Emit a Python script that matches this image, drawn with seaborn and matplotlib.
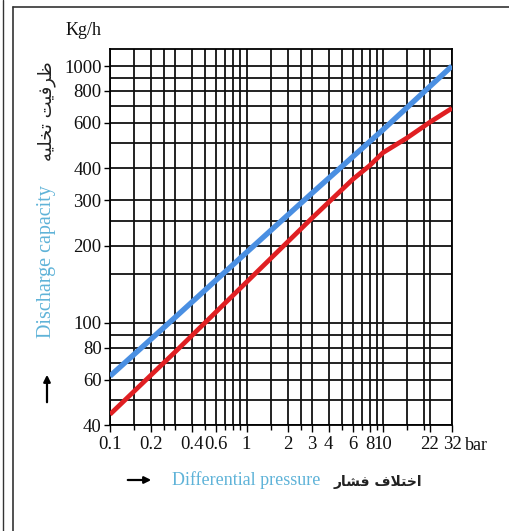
import numpy as np
import pandas as pd
import matplotlib
matplotlib.use("Agg")
import matplotlib.pyplot as plt
from matplotlib.lines import Line2D
import seaborn as sns

# Curve data (differential pressure in bar, capacity in kg/h)
pressure_blue = [0.1, 0.3, 1, 3, 10, 32]
capacity_blue = [62, 105, 188, 319, 565, 1000]
pressure_red = [0.1, 0.3, 1, 3, 6, 8, 10, 15, 22, 32]
capacity_red = [44, 77, 144, 255, 362, 410, 460, 525, 604, 685]

# Axis ticks and grid positions
x_labeled = [0.1, 0.2, 0.4, 0.6, 1, 2, 3, 4, 6, 8, 10, 22, 32]
x_labels = ["0.1", "0.2", "0.4", "0.6", "1", "2", "3", "4", "6", "8", "10", "22", "32"]
x_minor = [0.15, 0.25, 0.3, 0.5, 0.7, 0.8, 0.9, 1.5, 2.5, 5, 7, 9, 15, 20]
y_labeled = [40, 60, 80, 100, 200, 300, 400, 600, 800, 1000]
y_labels = ["40", "60", "80", "100", "200", "300", "400", "600", "800", "1000"]
y_minor = [50, 70, 90, 155, 250, 500, 700, 900]

BLUE = "#4a8fe2"
RED = "#e01f22"
LIGHT_BLUE = "#5fb3d8"

sns.set_style("white")
plt.rcParams["font.family"] = ["Liberation Serif", "DejaVu Sans"]

df = pd.concat([
    pd.DataFrame({"p": pressure_blue, "q": capacity_blue, "s": "blue"}),
    pd.DataFrame({"p": pressure_red, "q": capacity_red, "s": "red"}),
])

fig = plt.figure(figsize=(5.1, 5.31), dpi=100)
ax = fig.add_axes([110 / 510, 1 - 425 / 531, 342 / 510, 376 / 531])
ax.set_xscale("log")
ax.set_yscale("log")

sns.lineplot(data=df[df.s == "blue"], x="p", y="q", color=BLUE, lw=3.9,
             ax=ax, zorder=5, solid_capstyle="butt")
sns.lineplot(data=df[df.s == "red"], x="p", y="q", color=RED, lw=3.4,
             ax=ax, zorder=4, solid_capstyle="butt")

ax.set_xlim(0.1, 32)
ax.set_ylim(40, 1165)

ax.set_xticks(x_labeled)
ax.set_xticklabels(x_labels)
ax.set_xticks(x_minor, minor=True)
ax.set_xticklabels([], minor=True)
ax.set_yticks(y_labeled)
ax.set_yticklabels(y_labels)
ax.set_yticks(y_minor, minor=True)
ax.set_yticklabels([], minor=True)

ax.grid(which="both", color="#111111", lw=1.3)
ax.set_axisbelow(True)
ax.tick_params(axis="x", which="major", length=5, width=1, color="black",
               labelsize=13.5, pad=3, direction="out", bottom=True,
               labelcolor="#111111")
ax.tick_params(axis="x", which="minor", length=3.5, width=1, color="black",
               bottom=True)
ax.tick_params(axis="y", which="major", length=4, width=1, color="black",
               labelsize=13.5, pad=2, direction="out", left=True,
               labelcolor="#111111")
ax.tick_params(axis="y", which="minor", length=0)
for sp in ax.spines.values():
    sp.set_color("black")
    sp.set_linewidth(1.3)
ax.set_xlabel("")
ax.set_ylabel("")

# Unit labels
fig.text(84 / 510, 1 - 31 / 531, "Kg/h", fontsize=13, ha="center", va="center",
         color="#111111")
fig.text(465 / 510, 1 - 445 / 531, "bar", fontsize=13, ha="left", va="center",
         color="#111111")

# Axis titles (Persian written in shaped presentation forms, visual order)
fa_capacity = "\ufeea\ufef4\ufee0\ufea8\ufe97 \ufe96\ufef4\ufed3\ufeae\ufec7"
fa_pressure = "\ufead\ufe8e\ufeb8\ufed3 \ufed1\ufefc\ufe98\ufea7\ufe8d"
fig.text(47 / 510, 1 - 111 / 531, fa_capacity, rotation=90, fontsize=13,
         family="DejaVu Sans", ha="center", va="center", color="#222222")
fig.text(47 / 510, 1 - 262 / 531, "Discharge capacity", rotation=90,
         fontsize=14.5, color=LIGHT_BLUE, ha="center", va="center")
fig.text(246 / 510, 1 - 480 / 531, "Differential pressure", fontsize=13,
         color=LIGHT_BLUE, ha="center", va="center")
fig.text(378 / 510, 1 - 482 / 531, fa_pressure, fontsize=10,
         family="DejaVu Sans", weight="bold", ha="center", va="center",
         color="#222222")

# Arrows
fig.patches.append(matplotlib.patches.FancyArrowPatch(
    (125 / 510, 1 - 480 / 531), (154 / 510, 1 - 480 / 531),
    transform=fig.transFigure, arrowstyle="-|>", mutation_scale=10,
    color="black", lw=1.6))
fig.patches.append(matplotlib.patches.FancyArrowPatch(
    (47 / 510, 1 - 405 / 531), (47 / 510, 1 - 372 / 531),
    transform=fig.transFigure, arrowstyle="-|>", mutation_scale=10,
    color="black", lw=1.6))

# Page border lines
fig.add_artist(Line2D([3.5 / 510, 3.5 / 510], [0, 1], color="#333333", lw=1,
                      transform=fig.transFigure))
fig.add_artist(Line2D([13 / 510, 13 / 510], [0, 1 - 7 / 531], color="#333333",
                      lw=1.2, transform=fig.transFigure))
fig.add_artist(Line2D([13 / 510, 1], [1 - 7 / 531, 1 - 7 / 531], color="#333333",
                      lw=1.2, transform=fig.transFigure))

fig.savefig("out.png", dpi=100)
